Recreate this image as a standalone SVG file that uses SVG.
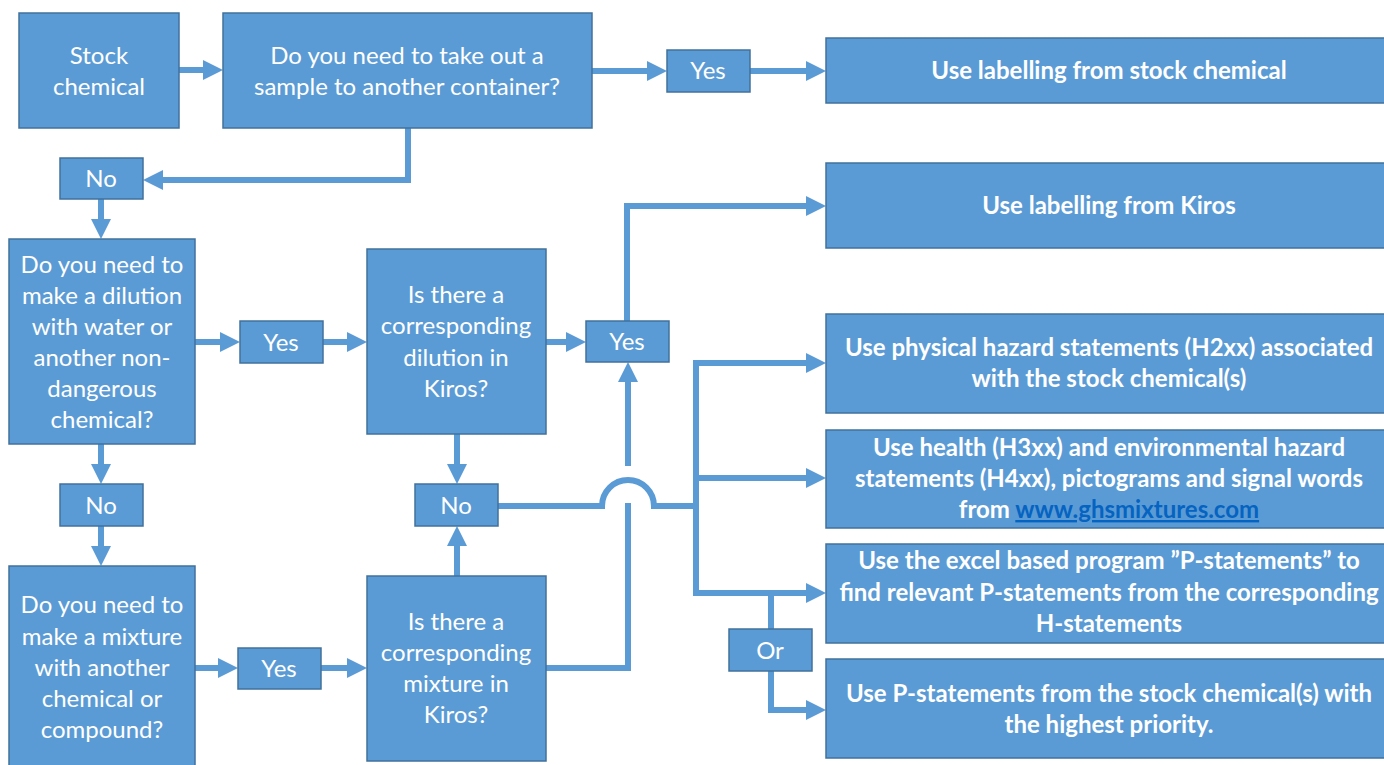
<svg xmlns="http://www.w3.org/2000/svg" width="1384" height="765" viewBox="0 0 1384 765">
<style>
.box{fill:#5B9BD5;stroke:#41719C;stroke-width:1.5}
.t{font-family:Lato,"Open Sans",sans-serif;font-size:24px;fill:#fff;text-anchor:middle}
.b{font-weight:700;font-size:24px}
.c{fill:none;stroke:#5B9BD5;stroke-width:6}
.lnk{fill:#0563C1;text-decoration:underline}
</style>
<defs>
<marker id="ah" viewBox="0 0 20 20" refX="0" refY="10" markerWidth="20" markerHeight="20" markerUnits="userSpaceOnUse" orient="auto">
<path d="M0,0 L20,10 L0,20 z" fill="#5B9BD5"/>
</marker>
</defs>
<rect width="1384" height="765" fill="#fff"/>
<g id="connectors">
<path class="c" d="M179,70 H203" marker-end="url(#ah)"/>
<path class="c" d="M592,71 H647" marker-end="url(#ah)"/>
<path class="c" d="M750,71 H806" marker-end="url(#ah)"/>
<path class="c" d="M408,128 V180 H163" marker-end="url(#ah)"/>
<path class="c" d="M101,199 V219" marker-end="url(#ah)"/>
<path class="c" d="M101,444 V464" marker-end="url(#ah)"/>
<path class="c" d="M101,526 V546" marker-end="url(#ah)"/>
<path class="c" d="M195,342 H220" marker-end="url(#ah)"/>
<path class="c" d="M323,342 H347" marker-end="url(#ah)"/>
<path class="c" d="M546,342 H566" marker-end="url(#ah)"/>
<path class="c" d="M627,321 V206 H806" marker-end="url(#ah)"/>
<path class="c" d="M457,434 V464" marker-end="url(#ah)"/>
<path class="c" d="M457,576 V546" marker-end="url(#ah)"/>
<path class="c" d="M195,668 H218" marker-end="url(#ah)"/>
<path class="c" d="M321,668 H347" marker-end="url(#ah)"/>
<path class="c" d="M546,668 H628 V503"/>
<path class="c" d="M628,466 V382" marker-end="url(#ah)"/>
<path class="c" d="M498,506 H602 A26,26 0 0 1 654,506 H699"/>
<path class="c" d="M696,360 V596"/>
<path class="c" d="M693,363 H806" marker-end="url(#ah)"/>
<path class="c" d="M696,478 H806" marker-end="url(#ah)"/>
<path class="c" d="M693,593 H806" marker-end="url(#ah)"/>
<path class="c" d="M771,593 V629"/>
<path class="c" d="M771,671 V710 H806" marker-end="url(#ah)"/>
</g>
<g id="stock">
<rect class="box" x="19" y="13" width="160" height="115"/>
<text class="t" x="99" y="64">Stock</text>
<text class="t" x="99" y="95">chemical</text>
</g>
<g id="q1">
<rect class="box" x="223" y="13" width="369" height="115"/>
<text class="t" x="407" y="64">Do you need to take out a</text>
<text class="t" x="407" y="95">sample to another container?</text>
</g>
<g id="yes1">
<rect class="box" x="667" y="50" width="83" height="42"/>
<text class="t" x="708" y="79">Yes</text>
</g>
<g id="r-stock">
<rect class="box" x="826" y="38" width="566" height="65"/>
<text class="t b" x="1109" y="79">Use labelling from stock chemical</text>
</g>
<g id="r-kiros">
<rect class="box" x="826" y="163" width="566" height="85"/>
<text class="t b" x="1109" y="214">Use labelling from Kiros</text>
</g>
<g id="no1">
<rect class="box" x="60" y="158" width="83" height="41"/>
<text class="t" x="101" y="187">No</text>
</g>
<g id="q2">
<rect class="box" x="9" y="239" width="186" height="205"/>
<text class="t" x="102" y="273">Do you need to</text>
<text class="t" x="102" y="304">make a dilution</text>
<text class="t" x="102" y="335">with water or</text>
<text class="t" x="102" y="366">another non-</text>
<text class="t" x="102" y="397">dangerous</text>
<text class="t" x="102" y="428">chemical?</text>
</g>
<g id="no2">
<rect class="box" x="60" y="484" width="83" height="42"/>
<text class="t" x="101" y="514">No</text>
</g>
<g id="q3">
<rect class="box" x="9" y="566" width="186" height="205"/>
<text class="t" x="102" y="613">Do you need to</text>
<text class="t" x="102" y="645">make a mixture</text>
<text class="t" x="102" y="676">with another</text>
<text class="t" x="102" y="707">chemical or</text>
<text class="t" x="102" y="738">compound?</text>
</g>
<g id="yes2">
<rect class="box" x="240" y="321" width="83" height="42"/>
<text class="t" x="281" y="351">Yes</text>
</g>
<g id="q4">
<rect class="box" x="367" y="249" width="179" height="185"/>
<text class="t" x="456" y="303">Is there a</text>
<text class="t" x="456" y="334">corresponding</text>
<text class="t" x="456" y="366">dilution in</text>
<text class="t" x="456" y="397">Kiros?</text>
</g>
<g id="yes4">
<rect class="box" x="586" y="321" width="83" height="41"/>
<text class="t" x="627" y="350">Yes</text>
</g>
<g id="no3">
<rect class="box" x="415" y="484" width="83" height="42"/>
<text class="t" x="456" y="514">No</text>
</g>
<g id="yes3">
<rect class="box" x="238" y="648" width="83" height="41"/>
<text class="t" x="279" y="677">Yes</text>
</g>
<g id="q5">
<rect class="box" x="367" y="576" width="179" height="185"/>
<text class="t" x="456" y="630">Is there a</text>
<text class="t" x="456" y="661">corresponding</text>
<text class="t" x="456" y="692">mixture in</text>
<text class="t" x="456" y="723">Kiros?</text>
</g>
<g id="r-phys">
<rect class="box" x="826" y="314" width="566" height="99"/>
<text class="t b" x="1109" y="356">Use physical hazard statements (H2xx) associated</text>
<text class="t b" x="1109" y="387">with the stock chemical(s)</text>
</g>
<g id="r-health">
<rect class="box" x="826" y="430" width="566" height="98"/>
<text class="t b" x="1109" y="456">Use health (H3xx) and environmental hazard</text>
<text class="t b" x="1109" y="487">statements (H4xx), pictograms and signal words</text>
<text class="t b" x="1109" y="518">from <tspan class="lnk">www.ghsmixtures.com</tspan></text>
</g>
<g id="r-excel">
<rect class="box" x="826" y="544" width="566" height="99"/>
<text class="t b" x="1109" y="569">Use the excel based program ”P-statements” to</text>
<text class="t b" x="1109" y="601">find relevant P-statements from the corresponding</text>
<text class="t b" x="1109" y="632">H-statements</text>
</g>
<g id="or">
<rect class="box" x="729" y="629" width="83" height="42"/>
<text class="t" x="770" y="659">Or</text>
</g>
<g id="r-pstat">
<rect class="box" x="826" y="659" width="566" height="99"/>
<text class="t b" x="1109" y="702">Use P-statements from the stock chemical(s) with</text>
<text class="t b" x="1109" y="733">the highest priority.</text>
</g>
</svg>
